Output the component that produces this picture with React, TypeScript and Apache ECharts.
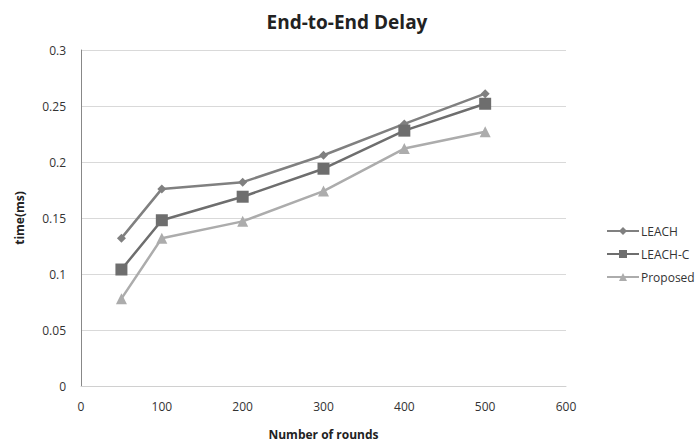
import React, { useEffect, useRef } from "react";
import * as echarts from "echarts";

const rounds = [50, 100, 200, 300, 400, 500];
const leach = [0.132, 0.176, 0.182, 0.206, 0.234, 0.261];
const leachC = [0.104, 0.148, 0.169, 0.194, 0.228, 0.252];
const proposed = [0.078, 0.132, 0.147, 0.174, 0.212, 0.227];
const seriesNames = ["LEACH", "LEACH-C", "Proposed"];

const font = "'Open Sans', 'Noto Sans', sans-serif";

export default function App() {
  const ref = useRef<HTMLDivElement>(null);
  useEffect(() => {
    if (!ref.current) return;
    const chart = echarts.init(ref.current, undefined, { renderer: "svg" });
    const mk = (arr: number[]) => rounds.map((r, i) => [r, arr[i]]);
    chart.setOption({
      animation: false,
      backgroundColor: "#ffffff",
      title: {
        text: "End-to-End Delay",
        left: 342,
        textAlign: "center",
        top: 7,
        textStyle: { fontFamily: font, fontSize: 19, fontWeight: "bold", color: "#222" },
      },
      legend: {
        orient: "vertical",
        left: 601,
        top: 220,
        itemGap: 11,
        itemWidth: 32,
        itemHeight: 10,
        textStyle: { fontFamily: font, fontSize: 12, color: "#333", padding: [0, 0, 0, -3] },
        data: seriesNames,
      },
      grid: { left: 81, right: 129, top: 50, bottom: 56 },
      xAxis: {
        type: "value",
        min: 0,
        max: 600,
        interval: 100,
        name: "Number of rounds",
        nameLocation: "middle",
        nameGap: 42,
        nameTextStyle: { fontFamily: font, fontSize: 12, fontWeight: "bold", color: "#222" },
        axisLine: { show: true, lineStyle: { color: "#d0d0d0" } },
        axisTick: { show: false },
        splitLine: { show: false },
        axisLabel: { fontFamily: font, fontSize: 12, color: "#333", margin: 14 },
      },
      yAxis: {
        type: "value",
        min: 0,
        max: 0.3,
        interval: 0.05,
        name: "time(ms)",
        nameLocation: "middle",
        nameGap: 56,
        nameRotate: 90,
        nameTextStyle: { fontFamily: font, fontSize: 12, fontWeight: "bold", color: "#222" },
        axisLine: { show: true, lineStyle: { color: "#888" } },
        axisTick: { show: false },
        splitLine: { show: true, lineStyle: { color: "#d9d9d9" } },
        axisLabel: { fontFamily: font, fontSize: 12, color: "#333", margin: 15 },
      },
      series: [
        {
          name: seriesNames[0],
          type: "line",
          data: mk(leach),
          symbol: "diamond",
          symbolSize: 9,
          lineStyle: { width: 2.5, color: "#808080" },
          itemStyle: { color: "#808080" },
        },
        {
          name: seriesNames[1],
          type: "line",
          data: mk(leachC),
          symbol: "rect",
          symbolSize: 12,
          lineStyle: { width: 2.5, color: "#6e6e6e" },
          itemStyle: { color: "#6e6e6e" },
        },
        {
          name: seriesNames[2],
          type: "line",
          data: mk(proposed),
          symbol: "triangle",
          symbolSize: 11,
          lineStyle: { width: 2.5, color: "#acacac" },
          itemStyle: { color: "#acacac" },
        },
      ],
    });
    return () => chart.dispose();
  }, []);
  return <div ref={ref} style={{ width: 695, height: 445, position: "absolute", left: 0, top: 0 }} />;
}
